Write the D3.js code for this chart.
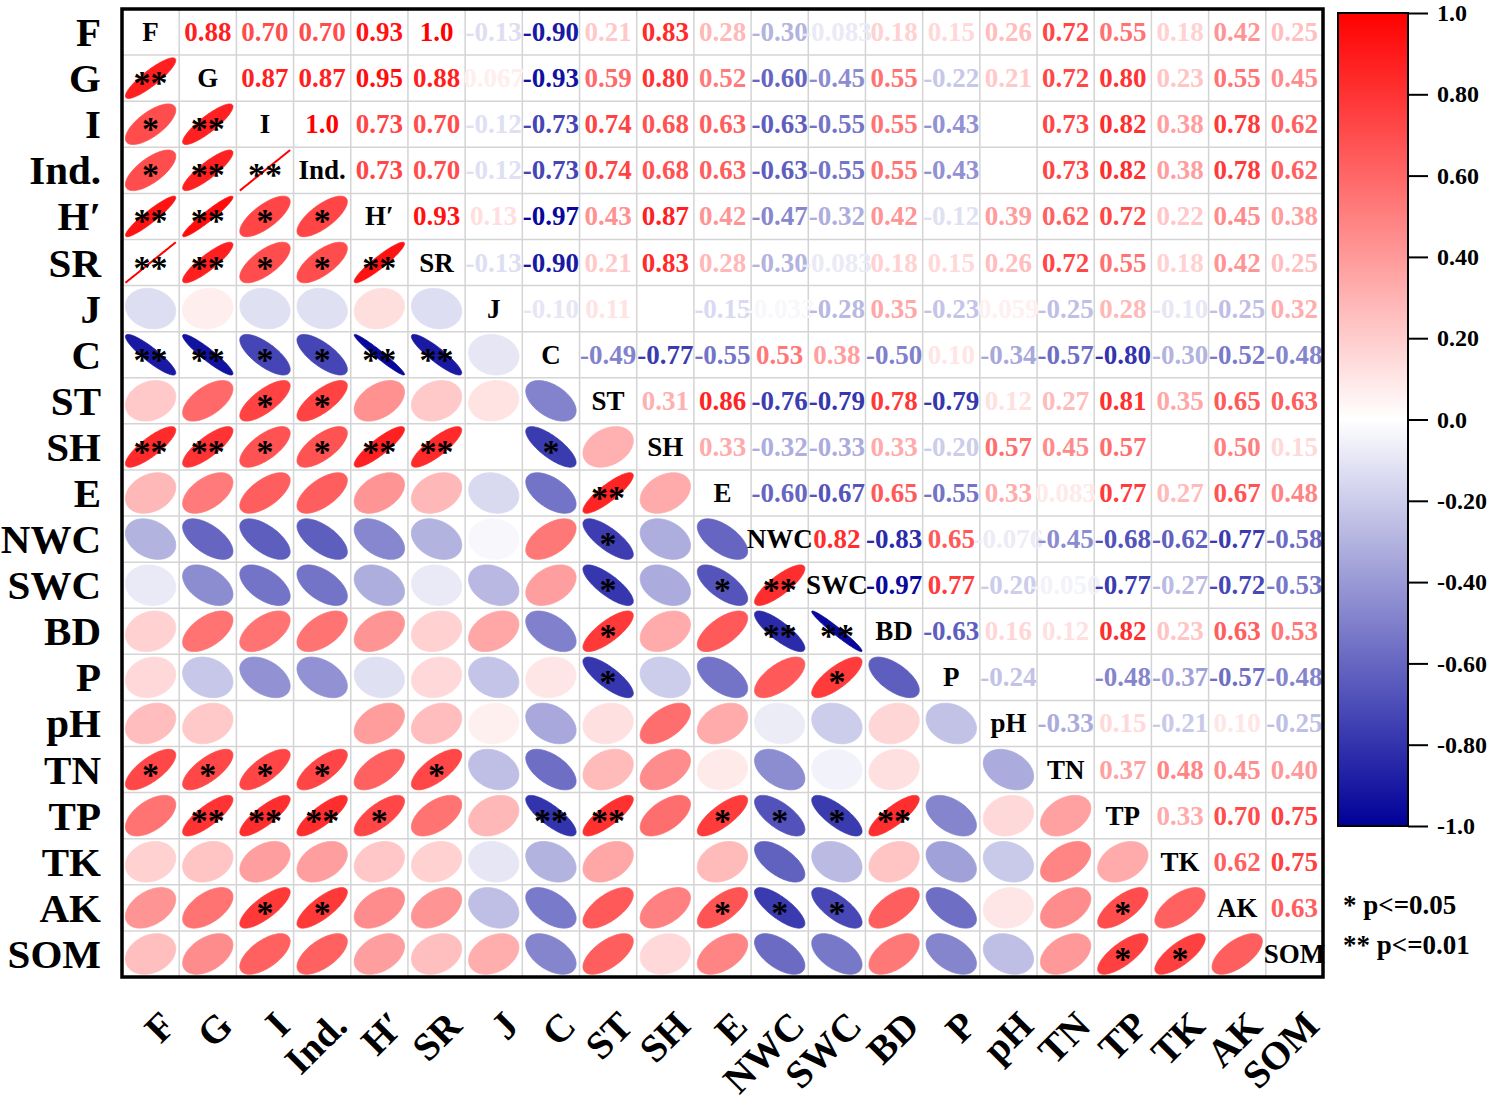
<!DOCTYPE html>
<html>
<head>
<meta charset="utf-8">
<script src="https://cdn.jsdelivr.net/npm/d3@7"></script>
<style>
  body { margin: 0; background: #ffffff; }
  svg { display: block; }
  text { font-family: "Liberation Serif", "Times New Roman", serif; font-weight: bold; }
</style>
</head>
<body>
<div id="chart"></div>
<script>
const variables = ['F', 'G', 'I', 'Ind.', 'H′', 'SR', 'J', 'C', 'ST', 'SH', 'E', 'NWC', 'SWC', 'BD', 'P', 'pH', 'TN', 'TP', 'TK', 'AK', 'SOM'];

// upper triangle, row i holds r for columns i+1 .. 20 (null = blank cell)
const upperRows = [
    [0.88, 0.70, 0.70, 0.93, 1.0, -0.13, -0.90, 0.21, 0.83, 0.28, -0.30, -0.083, 0.18, 0.15, 0.26, 0.72, 0.55, 0.18, 0.42, 0.25],
    [0.87, 0.87, 0.95, 0.88, 0.067, -0.93, 0.59, 0.80, 0.52, -0.60, -0.45, 0.55, -0.22, 0.21, 0.72, 0.80, 0.23, 0.55, 0.45],
    [1.0, 0.73, 0.70, -0.12, -0.73, 0.74, 0.68, 0.63, -0.63, -0.55, 0.55, -0.43, null, 0.73, 0.82, 0.38, 0.78, 0.62],
    [0.73, 0.70, -0.12, -0.73, 0.74, 0.68, 0.63, -0.63, -0.55, 0.55, -0.43, null, 0.73, 0.82, 0.38, 0.78, 0.62],
    [0.93, 0.13, -0.97, 0.43, 0.87, 0.42, -0.47, -0.32, 0.42, -0.12, 0.39, 0.62, 0.72, 0.22, 0.45, 0.38],
    [-0.13, -0.90, 0.21, 0.83, 0.28, -0.30, -0.083, 0.18, 0.15, 0.26, 0.72, 0.55, 0.18, 0.42, 0.25],
    [-0.10, 0.11, null, -0.15, -0.033, -0.28, 0.35, -0.23, 0.059, -0.25, 0.28, -0.10, -0.25, 0.32],
    [-0.49, -0.77, -0.55, 0.53, 0.38, -0.50, 0.10, -0.34, -0.57, -0.80, -0.30, -0.52, -0.48],
    [0.31, 0.86, -0.76, -0.79, 0.78, -0.79, 0.12, 0.27, 0.81, 0.35, 0.65, 0.63],
    [0.33, -0.32, -0.33, 0.33, -0.20, 0.57, 0.45, 0.57, null, 0.50, 0.15],
    [-0.60, -0.67, 0.65, -0.55, 0.33, 0.083, 0.77, 0.27, 0.67, 0.48],
    [0.82, -0.83, 0.65, -0.076, -0.45, -0.68, -0.62, -0.77, -0.58],
    [-0.97, 0.77, -0.20, -0.050, -0.77, -0.27, -0.72, -0.53],
    [-0.63, 0.16, 0.12, 0.82, 0.23, 0.63, 0.53],
    [-0.24, null, -0.48, -0.37, -0.57, -0.48],
    [-0.33, 0.15, -0.21, 0.10, -0.25],
    [0.37, 0.48, 0.45, 0.40],
    [0.33, 0.70, 0.75],
    [0.62, 0.75],
    [0.63]
];

// significance marks drawn on the lower-triangle ellipses: [row, column, mark]
const sigMarks = [
    ['G', 'F', '**'],
    ['I', 'F', '*'], ['I', 'G', '**'],
    ['Ind.', 'F', '*'], ['Ind.', 'G', '**'], ['Ind.', 'I', '**'],
    ['H′', 'F', '**'], ['H′', 'G', '**'], ['H′', 'I', '*'], ['H′', 'Ind.', '*'],
    ['SR', 'F', '**'], ['SR', 'G', '**'], ['SR', 'I', '*'], ['SR', 'Ind.', '*'], ['SR', 'H′', '**'],
    ['C', 'F', '**'], ['C', 'G', '**'], ['C', 'I', '*'], ['C', 'Ind.', '*'], ['C', 'H′', '**'], ['C', 'SR', '**'],
    ['ST', 'I', '*'], ['ST', 'Ind.', '*'],
    ['SH', 'F', '**'], ['SH', 'G', '**'], ['SH', 'I', '*'], ['SH', 'Ind.', '*'], ['SH', 'H′', '**'], ['SH', 'SR', '**'], ['SH', 'C', '*'],
    ['E', 'ST', '**'],
    ['NWC', 'ST', '*'],
    ['SWC', 'ST', '*'], ['SWC', 'E', '*'], ['SWC', 'NWC', '**'],
    ['BD', 'ST', '*'], ['BD', 'NWC', '**'], ['BD', 'SWC', '**'],
    ['P', 'ST', '*'], ['P', 'SWC', '*'],
    ['TN', 'F', '*'], ['TN', 'G', '*'], ['TN', 'I', '*'], ['TN', 'Ind.', '*'], ['TN', 'SR', '*'],
    ['TP', 'G', '**'], ['TP', 'I', '**'], ['TP', 'Ind.', '**'], ['TP', 'H′', '*'], ['TP', 'C', '**'], ['TP', 'ST', '**'],
    ['TP', 'E', '*'], ['TP', 'NWC', '*'], ['TP', 'SWC', '*'], ['TP', 'BD', '**'],
    ['AK', 'I', '*'], ['AK', 'Ind.', '*'], ['AK', 'E', '*'], ['AK', 'NWC', '*'], ['AK', 'SWC', '*'], ['AK', 'TP', '*'],
    ['SOM', 'TP', '*'], ['SOM', 'TK', '*']
];

const barTicks = [1, 0.8, 0.6, 0.4, 0.2, 0, -0.2, -0.4, -0.6, -0.8, -1];
const barTickLabels = ['1.0', '0.80', '0.60', '0.40', '0.20', '0.0', '-0.20', '-0.40', '-0.60', '-0.80', '-1.0'];
const legendLines = ['* p<=0.05', '** p<=0.01'];

const width = 1496;
const height = 1102;
const plot = { left: 122, top: 9, right: 1323, bottom: 977 };

const svg = d3.select('#chart').append('svg')
    .attr('width', width)
    .attr('height', height);

const x = d3.scaleBand().domain(variables).range([plot.left, plot.right]);
const y = d3.scaleBand().domain(variables).range([plot.top, plot.bottom]);
const color = d3.scaleLinear().domain([-1, 0, 1]).range(['#000099', '#ffffff', '#ff0000']);

// full symmetric matrix from the upper rows
const cells = [];
upperRows.forEach((row, i) => {
    row.forEach((v, k) => {
        const j = i + 1 + k;
        cells.push({ row: variables[i], col: variables[j], r: v, upper: true });
        cells.push({ row: variables[j], col: variables[i], r: v, upper: false });
    });
});

// grid
const grid = svg.append('g').attr('class', 'grid');
variables.forEach((v) => {
    grid.append('line')
        .attr('x1', x(v)).attr('x2', x(v))
        .attr('y1', plot.top).attr('y2', plot.bottom)
        .attr('stroke', '#d4d4d4').attr('stroke-width', 1.5);
    grid.append('line')
        .attr('x1', plot.left).attr('x2', plot.right)
        .attr('y1', y(v)).attr('y2', y(v))
        .attr('stroke', '#d4d4d4').attr('stroke-width', 1.5);
});

// lower triangle ellipses (corrplot style)
const ts = d3.range(0, 2 * Math.PI + 0.01, Math.PI / 60);
const rx = x.bandwidth() * 0.44;
const ry = y.bandwidth() * 0.44;
function ellipsePath(d) {
    const cx = x(d.col) + x.bandwidth() / 2;
    const cy = y(d.row) + y.bandwidth() / 2;
    const a = Math.acos(Math.max(-1, Math.min(1, d.r)));
    return d3.line()(ts.map((t) => [cx + rx * Math.cos(t + a / 2), cy - ry * Math.cos(t - a / 2)]));
}

svg.append('g').selectAll('path')
    .data(cells.filter((d) => !d.upper && d.r !== null))
    .join('path')
    .attr('d', ellipsePath)
    .attr('fill', (d) => color(d.r))
    .attr('stroke', (d) => color(d.r))
    .attr('stroke-width', (d) => Math.abs(d.r) >= 0.999 ? 2 : 0.8);

// upper triangle numbers
function fmt(v) {
    if (Math.abs(v) === 1) return v.toFixed(1);
    if (Math.abs(v) < 0.1) return v.toFixed(3);
    return v.toFixed(2);
}
svg.append('g').selectAll('text')
    .data(cells.filter((d) => d.upper && d.r !== null))
    .join('text')
    .attr('x', (d) => x(d.col) + x.bandwidth() / 2)
    .attr('y', (d) => y(d.row) + y.bandwidth() / 2 + 9)
    .attr('text-anchor', 'middle')
    .attr('font-size', 27)
    .attr('fill', (d) => color(d.r))
    .text((d) => fmt(d.r));

// significance stars
svg.append('g').selectAll('text')
    .data(sigMarks)
    .join('text')
    .attr('x', (d) => x(d[1]) + x.bandwidth() / 2)
    .attr('y', (d) => y(d[0]) + y.bandwidth() / 2 + 16)
    .attr('text-anchor', 'middle')
    .attr('font-size', 34)
    .attr('fill', '#000')
    .text((d) => d[2]);

// diagonal labels
svg.append('g').selectAll('text')
    .data(variables)
    .join('text')
    .attr('x', (d) => x(d) + x.bandwidth() / 2)
    .attr('y', (d) => y(d) + y.bandwidth() / 2 + 9)
    .attr('text-anchor', 'middle')
    .attr('font-size', 27)
    .attr('fill', '#000')
    .text((d) => d);

// frame
svg.append('rect')
    .attr('x', plot.left).attr('y', plot.top)
    .attr('width', plot.right - plot.left).attr('height', plot.bottom - plot.top)
    .attr('fill', 'none').attr('stroke', '#000').attr('stroke-width', 3.5);

// row labels
svg.append('g').selectAll('text')
    .data(variables)
    .join('text')
    .attr('x', 101)
    .attr('y', (d) => y(d) + y.bandwidth() / 2 + 14)
    .attr('text-anchor', 'end')
    .attr('font-size', 41)
    .attr('fill', '#000')
    .text((d) => d);

// column labels, rotated
svg.append('g').selectAll('text')
    .data(variables)
    .join('text')
    .attr('transform', (d) => `translate(${x(d) + x.bandwidth() / 2 + 27},1028) rotate(-45)`)
    .attr('text-anchor', 'end')
    .attr('font-size', 39)
    .attr('fill', '#000')
    .text((d) => d);

// colour bar
const bar = { x: 1338, w: 70 };
const barY = d3.scaleLinear().domain([1, -1]).range([13, 826]);
const grad = svg.append('defs').append('linearGradient')
    .attr('id', 'cbar').attr('x1', 0).attr('x2', 0).attr('y1', 0).attr('y2', 1);
d3.range(0, 21).forEach((k) => {
    const v = 1 - k / 10;
    grad.append('stop').attr('offset', `${k * 5}%`).attr('stop-color', color(v));
});
svg.append('rect')
    .attr('x', bar.x).attr('y', barY(1))
    .attr('width', bar.w).attr('height', barY(-1) - barY(1))
    .attr('fill', 'url(#cbar)')
    .attr('stroke', '#000').attr('stroke-width', 2);

const barAxis = svg.append('g')
    .attr('transform', `translate(${bar.x + bar.w},0)`)
    .call(d3.axisRight(barY)
        .tickValues(barTicks)
        .tickSize(20)
        .tickPadding(9)
        .tickFormat((d, i) => barTickLabels[i]));
barAxis.select('.domain').remove();
barAxis.selectAll('.tick line').attr('stroke', '#000').attr('stroke-width', 2);
barAxis.selectAll('.tick text')
    .attr('font-family', '"Liberation Serif", serif')
    .attr('font-weight', 'bold')
    .attr('font-size', 24)
    .attr('fill', '#000');

// significance legend
svg.append('g').selectAll('text')
    .data(legendLines)
    .join('text')
    .attr('x', 1343)
    .attr('y', (d, i) => 914 + i * 40)
    .attr('font-size', 27)
    .attr('fill', '#000')
    .text((d) => d);
</script>
</body>
</html>
